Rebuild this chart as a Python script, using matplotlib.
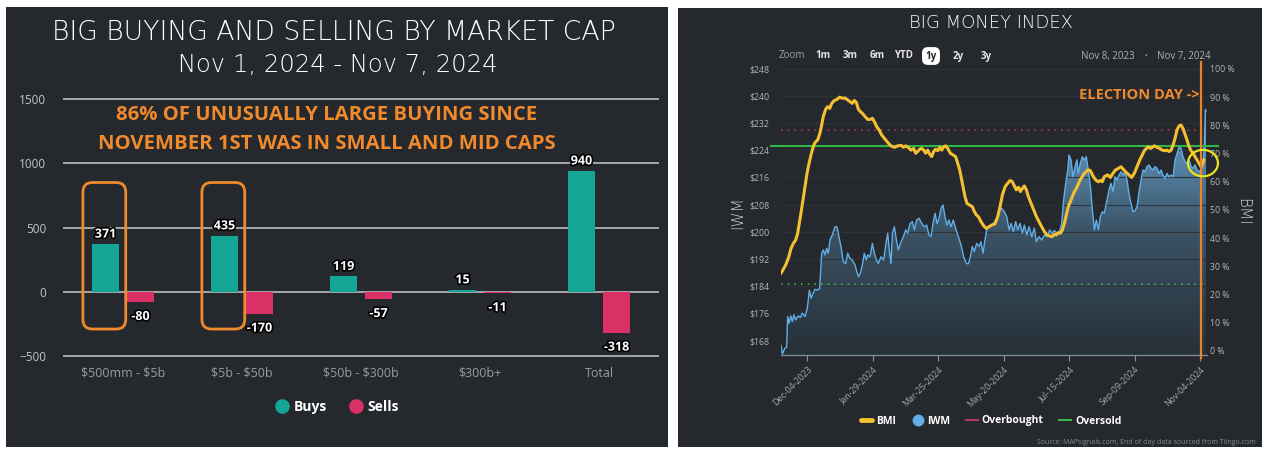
import numpy as np
import matplotlib
matplotlib.use('Agg')
import matplotlib.pyplot as plt
import matplotlib.dates as mdates
import matplotlib.patheffects as pe
from matplotlib.patches import Rectangle, FancyBboxPatch, Ellipse, Polygon
from matplotlib.lines import Line2D
from matplotlib.colors import LinearSegmentedColormap

plt.rcParams['font.family'] = ['Open Sans', 'DejaVu Sans']

# ---- left panel data ----
caps = [r'\$500mm - \$5b', r'\$5b - \$50b', r'\$50b - \$300b', r'\$300b+', 'Total']
buys = [371, 435, 119, 15, 940]
sells = [-80, -170, -57, -11, -318]
circled = [0, 1]

# ---- right panel data (days after Nov 8, 2023) ----
iwm_day = [3.4, 4.6, 6.8, 8.3, 9.1, 10.3, 11.7, 13.1, 14.5, 16.0, 18.2, 20.0, 21.7, 24.0, 25.9,
           27.7, 29.1, 30.8, 32.5, 34.8, 36.5, 38.2, 39.6, 41.1, 42.5, 43.9, 45.3, 47.3, 49.6,
           51.3, 53.0, 54.7, 56.7, 58.7, 60.5, 62.4, 64.4, 66.7, 69.6, 71.3, 73.0, 74.7, 76.4,
           77.6, 79.6, 81.6, 83.3, 85.0, 86.7, 89.0, 91.2, 93.2, 94.7, 96.4, 97.5, 98.7, 100.4,
           102.4, 103.8, 106.1, 108.1, 110.1, 111.8, 113.8, 115.8, 117.5, 119.5, 121.5, 123.8,
           126.0, 128.0, 130.0, 131.7, 133.7, 135.2, 136.9, 138.6, 140.3, 142.0, 143.7, 145.4,
           147.1, 148.9, 150.8, 152.8, 155.1, 157.4, 159.7, 162.0, 163.7, 165.4, 167.1, 168.8,
           170.8, 172.8, 174.5, 176.2, 177.9, 179.6, 182.2, 185.1, 188.8, 190.5, 192.2, 194.5,
           196.5, 198.5, 200.2, 202.2, 204.2, 205.9, 207.9, 209.9, 211.6, 213.6, 215.6, 217.9,
           220.1, 221.9, 224.1, 226.4, 228.7, 231.0, 233.3, 235.0, 237.3, 239.5, 241.8, 243.5,
           245.2, 247.0, 248.7, 249.8, 251.5, 253.2, 255.0, 256.6, 257.8, 259.5, 261.2, 262.9,
           264.6, 266.3, 268.1, 269.8, 271.5, 273.2, 274.9, 276.6, 278.3, 280.0, 282.3, 284.0,
           285.7, 287.4, 289.2, 290.9, 292.6, 294.3, 296.0, 297.7, 299.4, 301.1, 302.8, 304.6,
           306.3, 308.0, 309.7, 311.4, 313.1, 314.8, 316.5, 318.2, 320.0, 321.7, 323.4, 325.1,
           326.8, 328.5, 330.2, 331.9, 333.6, 335.3, 337.1, 338.8, 340.5, 342.2, 343.9, 345.6,
           347.3, 349.0, 350.7, 352.5, 354.2, 355.9, 357.6, 359.3, 361.0, 362.7, 364.4, 365.6,
           366.4, 367.0]
iwm_val = [166.7, 164.1, 165.8, 166.1, 175.1, 173.1, 175.3, 173.6, 175.6, 174.1, 175.3, 174.8, 176.1,
           175.1, 177.5, 182.9, 180.5, 181.9, 183.1, 182.9, 183.4, 193.7, 194.7, 193.2, 195.2,
           193.7, 197.6, 199.1, 201.5, 201.5, 198.6, 195.7, 191.2, 190.7, 193.7, 192.2, 191.7,
           190.3, 186.8, 187.8, 190.3, 193.7, 191.7, 193.2, 192.7, 196.6, 193.7, 191.7, 190.7,
           192.7, 191.7, 196.6, 199.6, 193.7, 190.7, 199.6, 201.5, 197.1, 194.7, 197.1, 198.6,
           200.6, 199.6, 202.5, 203.0, 200.6, 203.5, 204.0, 202.5, 201.5, 202.0, 199.1, 198.6,
           203.0, 205.5, 202.5, 204.0, 206.9, 207.9, 204.5, 202.0, 203.5, 201.5, 203.5, 201.1,
           198.6, 196.2, 192.7, 190.7, 190.6, 192.7, 195.7, 194.2, 196.6, 195.7, 197.1, 193.7,
           197.6, 201.1, 201.5, 202.5, 204.5, 206.4, 206.9, 205.9, 204.5, 200.6, 202.5, 200.1,
           203.0, 200.6, 202.5, 199.6, 202.0, 199.1, 201.5, 198.6, 201.1, 197.1, 198.6, 197.6,
           199.1, 198.6, 200.6, 199.6, 200.4, 199.6, 200.1, 202.5, 209.4, 214.3, 218.2, 222.6,
           221.2, 216.2, 219.2, 221.2, 217.2, 220.2, 222.1, 221.2, 222.1, 218.2, 213.3, 206.4,
           200.6, 203.5, 200.6, 204.5, 205.9, 205.5, 209.4, 212.3, 214.3, 211.8, 216.2, 215.3,
           216.7, 217.7, 216.7, 217.7, 215.3, 211.3, 208.4, 205.9, 206.2, 207.4, 211.8, 215.3,
           218.2, 217.7, 219.2, 219.7, 218.7, 218.2, 219.2, 218.7, 217.2, 218.2, 216.7, 215.7,
           217.2, 216.2, 216.7, 216.2, 221.2, 223.1, 224.9, 224.6, 222.1, 220.7, 220.2, 221.2,
           219.2, 218.7, 219.7, 218.2, 217.7, 218.2, 219.2, 226.1, 236.0, 235.5]

bmi_day = [3.4, 5.4, 7.4, 9.7, 12.0, 14.0, 16.0, 17.7, 18.8, 20.5, 22.2, 23.9, 25.7, 27.4, 29.1,
           30.8, 32.5, 34.8, 36.5, 38.2, 39.6, 41.6, 43.3, 45.1, 46.8, 49.0, 51.3, 53.6, 55.9,
           58.2, 60.5, 62.4, 64.4, 66.1, 67.9, 69.6, 71.3, 73.6, 75.3, 77.6, 79.8, 81.6, 83.3,
           85.3, 87.3, 89.5, 91.8, 94.1, 97.5, 100.4, 103.2, 106.1, 108.1, 110.1, 112.3, 114.6,
           116.9, 118.6, 120.3, 122.0, 123.8, 125.5, 127.2, 128.9, 130.6, 132.3, 134.0, 135.7,
           137.5, 139.2, 140.9, 142.6, 144.3, 146.0, 148.3, 150.6, 152.8, 154.6, 156.3, 158.0,
           159.7, 160.8, 162.5, 164.8, 167.1, 168.8, 170.5, 172.2, 174.5, 176.8, 179.1, 181.4,
           183.6, 186.5, 188.8, 190.8, 192.8, 195.1, 197.3, 199.3, 201.3, 203.0, 204.7, 206.5,
           208.2, 209.9, 211.6, 213.3, 215.0, 217.3, 219.6, 221.9, 224.1, 226.4, 228.7, 231.0,
           233.3, 235.5, 237.3, 239.0, 240.7, 242.4, 244.1, 245.8, 247.5, 249.2, 250.9, 252.6,
           254.4, 256.1, 257.8, 259.5, 261.2, 262.9, 264.6, 266.3, 268.1, 269.8, 271.5, 273.2,
           274.9, 276.6, 278.3, 280.0, 282.9, 285.2, 287.4, 289.7, 292.0, 294.3, 296.6, 298.9,
           301.1, 303.4, 305.7, 308.0, 310.3, 312.5, 314.2, 316.0, 317.7, 319.4, 321.1, 322.8,
           325.1, 327.4, 329.6, 331.9, 333.6, 335.3, 337.1, 338.8, 340.5, 342.2, 343.9, 345.6,
           347.3, 349.0, 350.7, 352.5, 354.2, 355.9, 357.6, 359.3, 361.0, 362.7, 363.9, 365.0]
bmi_val = [27.5, 28.9, 30.4, 32.8, 36.3, 38.1, 39.3, 41.7, 44.6, 48.8, 53.5, 58.2, 63.0, 66.5, 69.5,
           72.2, 73.9, 74.8, 76.9, 80.1, 83.1, 85.7, 86.6, 86.0, 87.8, 88.8, 89.2, 90.0, 89.6,
           89.7, 89.0, 88.4, 87.8, 88.8, 88.1, 85.7, 84.9, 84.0, 83.1, 82.1, 82.1, 82.5, 81.3,
           79.5, 78.4, 76.6, 75.4, 74.2, 72.7, 72.2, 72.7, 72.9, 72.2, 72.7, 72.2, 71.2, 71.8,
           70.1, 70.7, 71.5, 71.8, 71.2, 70.1, 71.2, 69.8, 68.9, 70.7, 71.5, 71.0, 72.2, 71.2,
           72.4, 72.7, 71.8, 70.1, 69.5, 68.9, 66.5, 64.2, 60.6, 57.1, 54.7, 52.3, 51.7, 51.1,
           49.4, 48.2, 47.6, 45.8, 44.3, 43.4, 44.0, 44.6, 45.0, 47.6, 51.1, 55.3, 58.2, 59.4,
           60.4, 60.0, 58.5, 57.1, 58.0, 56.5, 57.6, 58.5, 57.1, 54.7, 52.3, 49.9, 47.6, 45.8,
           44.0, 42.3, 41.1, 40.7, 40.5, 41.4, 41.1, 41.9, 41.7, 42.8, 45.2, 48.2, 51.1, 52.9,
           54.7, 56.5, 57.6, 59.2, 60.8, 61.8, 63.0, 63.6, 64.2, 63.9, 62.4, 61.2, 60.4, 60.0,
           60.4, 60.0, 61.8, 62.4, 61.5, 63.0, 64.2, 64.7, 65.3, 64.2, 63.2, 62.4, 61.5, 63.0,
           65.3, 67.7, 69.5, 71.0, 71.8, 72.4, 71.8, 72.2, 72.7, 72.2, 71.8, 71.2, 71.0, 71.2,
           70.7, 71.2, 73.0, 75.4, 78.4, 79.8, 80.1, 78.9, 76.9, 74.8, 72.4, 71.0, 70.1, 68.9,
           67.7, 66.5, 65.3, 66.3, 67.7]

overbought = 78.5
oversold = 23.6
bmi_ref = 72.7
election_day = '2024-11-05'
start = np.datetime64('2023-11-08')
tick_dates = ['2023-12-04', '2024-01-29', '2024-03-25', '2024-05-20',
              '2024-07-15', '2024-09-09', '2024-11-04']
iwm_ticks = list(range(168, 249, 8))
bmi_ticks = list(range(0, 101, 10))
zoom_buttons = ['1m', '3m', '6m', 'YTD', '1y', '2y', '3y']

W, H = 1264, 453
BG = '#25282c'
TEAL = '#13a596'
PINK = '#d93165'
ORANGE = '#f08a2c'
YELLOW = '#f4c02f'
BLUE = '#62aee6'
TITLE_FONT = ['DejaVu Sans']


def fx(x):
    return x / W


def fy(y):
    return 1 - y / H


def to_dates(days):
    return start + (np.asarray(days) * 86400).astype('timedelta64[s]')


fig = plt.figure(figsize=(W / 100, H / 100), dpi=100)
fig.patch.set_facecolor('white')
fig.add_artist(Rectangle((fx(6), fy(447)), 662 / W, 440 / H, transform=fig.transFigure,
                         facecolor=BG, edgecolor='none', zorder=-10))
fig.add_artist(Rectangle((fx(678), fy(447)), 584 / W, 439 / H, transform=fig.transFigure,
                         facecolor=BG, edgecolor='none', zorder=-10))

# ================= left panel =================
fig.text(fx(334), fy(32), 'BIG BUYING AND SELLING BY MARKET CAP', ha='center', va='center',
         color='white', fontsize=19.2, fontweight='light', family=TITLE_FONT)
fig.text(fx(338), fy(65), 'Nov 1, 2024 - Nov 7, 2024', ha='center', va='center',
         color='white', fontsize=17.5, fontweight='light', family=TITLE_FONT)

ax1 = fig.add_axes([fx(63.5), fy(358.6), 595 / W, 262.2 / H])
ax1.set_facecolor('none')
x = np.arange(len(caps))
bw, off = 0.235, 0.147
ax1.bar(x - off, buys, bw, color=TEAL, zorder=3)
ax1.bar(x + off, sells, bw, color=PINK, zorder=3)
ax1.set_xlim(-0.5, 4.5)
ax1.set_ylim(-520, 1520)
ax1.set_yticks([-500, 0, 500, 1000, 1500])
ax1.grid(axis='y', color='#c8c8c8', lw=1.1, zorder=1)
for s in ax1.spines.values():
    s.set_visible(False)
ax1.set_xticks(x)
ax1.set_xticklabels(caps)
ax1.tick_params(axis='y', length=0, pad=12.5, labelsize=8.5, labelcolor='#c4c4c4')
ax1.tick_params(axis='x', length=0, pad=6, labelsize=9, labelcolor='#9c9c9c')

stroke = [pe.withStroke(linewidth=2.4, foreground='black')]
for i in range(len(caps)):
    ax1.annotate(str(buys[i]), (x[i] - off, buys[i]), xytext=(0, 7.2), textcoords='offset points',
                 ha='center', va='center', color='white', fontsize=9, fontweight='bold',
                 path_effects=stroke, zorder=5)
    ax1.annotate(str(sells[i]), (x[i] + off, sells[i]), xytext=(0, -10.4), textcoords='offset points',
                 ha='center', va='center', color='white', fontsize=9, fontweight='bold',
                 path_effects=stroke, zorder=5)

aspect = (2040 / 262.2) / (5 / 595)
for i in circled:
    ax1.add_patch(FancyBboxPatch((x[i] - off - 0.19, -290), 0.36, 1140,
                                 boxstyle='round,pad=0,rounding_size=0.08', mutation_aspect=aspect,
                                 fc='none', ec=ORANGE, lw=2, zorder=6, clip_on=False))

fig.text(fx(327), fy(115), '86% OF UNUSUALLY LARGE BUYING SINCE', ha='center', va='center',
         color=ORANGE, fontsize=14.6, fontweight='bold')
fig.text(fx(327), fy(144), 'NOVEMBER 1ST WAS IN SMALL AND MID CAPS', ha='center', va='center',
         color=ORANGE, fontsize=14.6, fontweight='bold')

h1 = [Line2D([], [], marker='o', ls='', color=TEAL, markersize=9.5, label='Buys'),
      Line2D([], [], marker='o', ls='', color=PINK, markersize=9.5, label='Sells')]
fig.legend(handles=h1, loc='center', bbox_to_anchor=(fx(337), fy(407)), ncol=2, frameon=False,
           prop=dict(weight='bold', size=10), labelcolor='white', handletextpad=0.3,
           columnspacing=1.6, handlelength=1.0)

# ================= right panel =================
fig.text(fx(991), fy(23), 'BIG MONEY INDEX', ha='center', va='center', color='white',
         fontsize=13, fontweight='light', family=TITLE_FONT)
fig.text(fx(792), fy(56), 'Zoom', ha='center', va='center', color='#a0a0a0', fontsize=7)
btn_x = [823, 850, 877, 903.5, 931, 958.6, 985.7]
for b, bx in zip(zoom_buttons, btn_x):
    if b == '1y':
        fig.text(fx(bx), fy(56), b, ha='center', va='center', color='#222222', fontsize=7,
                 fontweight='bold',
                 bbox=dict(boxstyle='round,pad=0.35,rounding_size=0.6', fc='white', ec='none'))
    else:
        fig.text(fx(bx), fy(56), b, ha='center', va='center', color='#e6e6e6', fontsize=7,
                 fontweight='bold')
fig.text(fx(1135), fy(56), 'Nov 8, 2023', ha='right', va='center', color='#b0b0b0', fontsize=7)
fig.text(fx(1146), fy(56), '\u2022', ha='center', va='center', color='#b0b0b0', fontsize=5)
fig.text(fx(1157), fy(56), 'Nov 7, 2024', ha='left', va='center', color='#b0b0b0', fontsize=7)

ax2 = fig.add_axes([fx(781), fy(355), 426.2 / W, 289 / H])
ax2.set_facecolor('none')
ylo, yhi = 163.79, 248.79
iwm_dates = to_dates(iwm_day)
xnum = mdates.date2num(iwm_dates)
verts = np.column_stack([np.r_[xnum[0], xnum, xnum[-1]], np.r_[ylo, iwm_val, ylo]])
poly = Polygon(verts, closed=True, fc='none', ec='none')
ax2.add_patch(poly)
cmap = LinearSegmentedColormap.from_list(
    'iwm', [(0, '#263038'), (0.43, '#3b5366'), (0.71, '#5a8cb0'), (1, '#78b4dc')])
grad = np.linspace(0, 1, 256).reshape(-1, 1)
im = ax2.imshow(grad, cmap=cmap, origin='lower', aspect='auto',
                extent=[xnum[0], xnum[-1], ylo, yhi], zorder=1)
im.set_clip_path(poly)
ax2.plot(iwm_dates, iwm_val, color=BLUE, lw=1.0, zorder=2)
ax2.set_xlim(to_dates(3.42), to_dates(368.0))
ax2.set_ylim(ylo, yhi)
ax2.set_yticks(iwm_ticks)
ax2.set_yticklabels([f'${v}' for v in iwm_ticks])
ax2.grid(axis='y', color='#2f3338', lw=0.8, zorder=0)
ax2.set_xticks(np.array(tick_dates, dtype='datetime64[D]'))
ax2.xaxis.set_major_formatter(mdates.DateFormatter('%b-%d-%Y'))
for lab in ax2.get_xticklabels():
    lab.set_rotation(45)
    lab.set_ha('right')
    lab.set_va('top')
    lab.set_rotation_mode('anchor')
for s in ['left', 'right', 'top']:
    ax2.spines[s].set_visible(False)
ax2.spines['bottom'].set_color('#7d8792')
ax2.spines['bottom'].set_linewidth(1.0)
ax2.tick_params(axis='x', length=4, color='#8a949e', pad=3, labelsize=6.3, labelcolor='#a8a8a8')
ax2.tick_params(axis='y', length=0, pad=8.5, labelsize=6.3, labelcolor='#b5b5b5')

ax3 = ax2.twinx()
ax3.set_ylim(-1.53, 101.06)
ax3.set_yticks(bmi_ticks)
ax3.set_yticklabels([f'{v} %' for v in bmi_ticks])
for s in ax3.spines.values():
    s.set_visible(False)
ax3.tick_params(axis='y', length=0, pad=2, labelsize=6.3, labelcolor='#b5b5b5')
ax3.axhline(overbought, color='#a8385a', lw=1.2, ls=(0, (1, 3)), zorder=2)
ax3.axhline(oversold, color='#3fae4a', lw=1.2, ls=(0, (1, 3)), zorder=2)
ax3.axhline(bmi_ref, xmin=-0.0235, xmax=1.0253, color='#2fb544', lw=1.5, zorder=3, clip_on=False)
ax3.plot(to_dates(bmi_day), bmi_val, color=YELLOW, lw=2.2, zorder=4, solid_joinstyle='round')
ax3.axvline(np.datetime64(election_day), ymin=-0.01, ymax=1.014, color='#e8832a', lw=1.6,
            zorder=5, clip_on=False)
ax3.add_patch(Ellipse((0.99, 0.664), 0.0704, 0.0917, transform=ax3.transAxes, fc='none',
                      ec='#ece21e', lw=1.6, zorder=6, clip_on=False))

fig.text(fx(1200), fy(95), 'ELECTION DAY ->', ha='right', va='center', color=ORANGE,
         fontsize=10.5, fontweight='bold')
fig.text(fx(738), fy(213), 'IWM', ha='center', va='center', rotation=90, color='#d0d0d0',
         fontsize=11, fontweight='light', family=TITLE_FONT)
fig.text(fx(1243), fy(212), 'BMI', ha='center', va='center', rotation=270, color='#d0d0d0',
         fontsize=11, fontweight='light', family=TITLE_FONT)

h2 = [Line2D([], [], color=YELLOW, lw=3.5, solid_capstyle='round', label='BMI'),
      Line2D([], [], marker='o', ls='', color=BLUE, markersize=7.5, label='IWM'),
      Line2D([], [], color='#b03a62', lw=1.5, label='Overbought'),
      Line2D([], [], color='#3fb34f', lw=1.5, label='Oversold')]
fig.legend(handles=h2, loc='center', bbox_to_anchor=(fx(991), fy(421)), ncol=4, frameon=False,
           prop=dict(weight='bold', size=7.5), labelcolor='white', handletextpad=0.4,
           columnspacing=1.5, handlelength=1.1)

fig.text(fx(1256), fy(442), 'Source: MAPsignals.com, End of day data sourced from Tiingo.com',
         ha='right', va='center', color='#8a8a8a', fontsize=5)

fig.savefig('out.png', dpi=100, facecolor='white')
